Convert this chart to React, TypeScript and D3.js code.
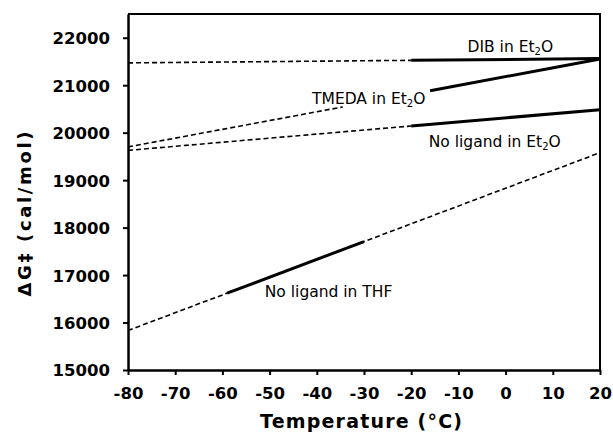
import React, { useEffect, useRef } from 'react'
import * as d3 from 'd3'

// x ticks (°C) and y ticks (cal/mol)
const tempTicks = [-80, -70, -60, -50, -40, -30, -20, -10, 0, 10, 20]
const energyTicks = [15000, 16000, 17000, 18000, 19000, 20000, 21000, 22000]

// each series is a straight fit: value at -80 °C and at 20 °C
const seriesNames = ['DIB', 'TMEDA', 'NoLigandEt2O', 'NoLigandTHF']
const valueAtMinus80 = [21470, 19700, 19627, 15832]
const valueAt20 = [21560, 21550, 20484, 19579]
// measured range (solid) and extrapolated range (dashed)
const solidRange = [[-20, 20], [-16, 20], [-20, 20], [-59, -30]]
const dashedRange = [[-80, -20], [-80, -34.5], [-80, -20], [-80, 20]]

// label text: [main, subscript, tail], anchored in data units
const labelParts = [
  ['DIB in Et', '2', 'O'],
  ['TMEDA in Et', '2', 'O'],
  ['No ligand in Et', '2', 'O'],
  ['No ligand in THF', '', ''],
]
const labelAt = [[1, 21699], [-29, 20604], [-2.3, 19698], [-37.5, 16538]]

const W = 613
const H = 434

const App = () => {
  const ref = useRef<SVGSVGElement>(null)

  useEffect(() => {
    const svg = d3.select(ref.current)
    svg.selectAll('*').remove()

    const x = d3.scaleLinear().domain([-80, 20]).range([128, 600])
    const y = d3.scaleLinear().domain([15000, 22500]).range([370, 14])
    const font = 'DejaVu Sans, Verdana, sans-serif'

    const fit = (i: number, t: number) =>
      valueAtMinus80[i] + ((valueAt20[i] - valueAtMinus80[i]) * (t + 80)) / 100

    // dashed extrapolations
    seriesNames.forEach((name, i) => {
      const [a, b] = dashedRange[i]
      svg.append('line')
        .attr('x1', x(a)).attr('y1', y(fit(i, a)))
        .attr('x2', x(b)).attr('y2', y(fit(i, b)))
        .attr('stroke', '#000').attr('stroke-width', 1.6)
        .attr('stroke-dasharray', '5,3')
    })

    // solid measured segments
    seriesNames.forEach((name, i) => {
      const [a, b] = solidRange[i]
      svg.append('line')
        .attr('x1', x(a)).attr('y1', y(fit(i, a)))
        .attr('x2', x(b)).attr('y2', y(fit(i, b)))
        .attr('stroke', '#000').attr('stroke-width', 3)
    })

    // labels
    seriesNames.forEach((name, i) => {
      const [t, v] = labelAt[i]
      const text = svg.append('text')
        .attr('x', x(t)).attr('y', y(v))
        .attr('text-anchor', 'middle')
        .attr('font-family', font).attr('font-size', 15.5)
      const [main, sub, tail] = labelParts[i]
      text.append('tspan').text(main)
      if (sub) {
        text.append('tspan').text(sub).attr('font-size', 10).attr('dy', 3)
        text.append('tspan').text(tail).attr('dy', -3)
      }
    })

    // frame
    svg.append('path')
      .attr('d', `M${x(-80)},${y(22500)}H${x(20)}V${y(15000)}`)
      .attr('fill', 'none').attr('stroke', '#000').attr('stroke-width', 2)

    const xAxis = svg.append('g')
      .attr('transform', `translate(0,${y(15000)})`)
      .call(d3.axisBottom(x).tickValues(tempTicks).tickFormat(d => String(d)).tickSize(5).tickSizeOuter(0).tickPadding(12))
    const yAxis = svg.append('g')
      .attr('transform', `translate(${x(-80)},0)`)
      .call(d3.axisLeft(y).tickValues(energyTicks).tickFormat(d => String(d)).tickSize(5).tickSizeOuter(0).tickPadding(13))

    ;[xAxis, yAxis].forEach(ax => {
      ax.select('.domain').attr('stroke-width', 2.5)
      ax.selectAll('.tick line').attr('stroke-width', 2)
      ax.selectAll('text')
        .attr('font-family', font).attr('font-size', 16.5).attr('font-weight', 'bold')
        .attr('fill', '#000')
    })
    yAxis.selectAll('text').attr('dy', '0.36em')

    svg.append('text')
      .text('Temperature (°C)')
      .attr('x', 361).attr('y', 428)
      .attr('text-anchor', 'middle')
      .attr('textLength', 202).attr('lengthAdjust', 'spacing')
      .attr('font-family', font).attr('font-size', 19).attr('font-weight', 'bold')

    svg.append('text')
      .text('ΔG‡ (cal/mol)')
      .attr('transform', 'translate(31,214) rotate(-90)')
      .attr('text-anchor', 'middle')
      .attr('textLength', 165).attr('lengthAdjust', 'spacing')
      .attr('font-family', font).attr('font-size', 18).attr('font-weight', 'bold')
  }, [])

  return (
    <svg
      ref={ref}
      width={W}
      height={H}
      style={{ position: 'absolute', left: 0, top: 0, background: '#fff' }}
    />
  )
}

export default App
